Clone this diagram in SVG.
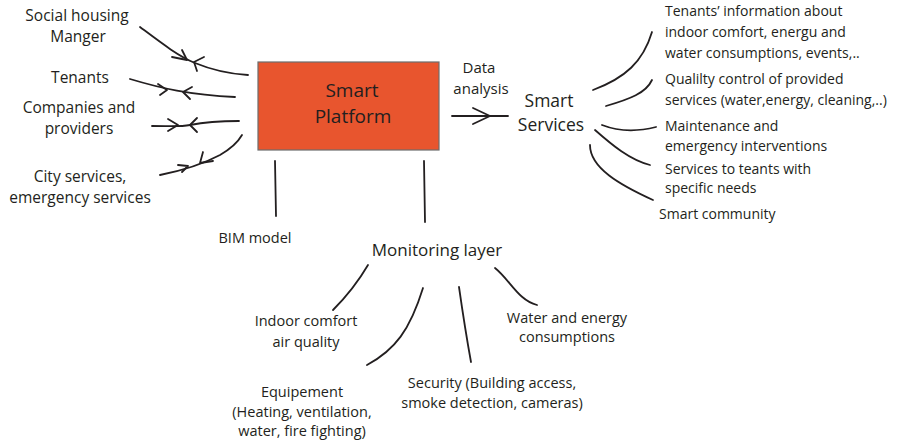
<svg xmlns="http://www.w3.org/2000/svg" width="898" height="441" viewBox="0 0 898 441">
<style>
text{font-family:"Open Sans",Lato,"Liberation Sans",sans-serif;fill:#231f20}
.l{font-size:15.5px;text-anchor:middle}
.r{font-size:14px}
.b{font-size:14.5px;text-anchor:middle}
.big{font-size:19px;text-anchor:middle}
.ln{fill:none;stroke:#231f20;stroke-width:1.8;stroke-linecap:round;stroke-linejoin:round}
</style>
<rect width="898" height="441" fill="#fff"/>
<g id="platform">
<rect x="258" y="62" width="181" height="88" fill="#e8552e" stroke="#6d6d6d" stroke-width="1.2"/>
<text class="big" x="352" y="97">Smart</text>
<text class="big" x="353" y="123">Platform</text>
</g>
<g id="services"><text class="big" x="549" y="107" style="font-size:17.5px">Smart</text><text class="big" x="551" y="131" style="font-size:17.5px">Services</text></g>
<g id="data-analysis"><text class="l" x="479" y="73" style="font-size:15px">Data</text><text class="l" x="481" y="94" style="font-size:15px">analysis</text></g>
<g id="social"><text class="l" x="77" y="21">Social housing</text><text class="l" x="78" y="42">Manger</text></g>
<g id="tenants"><text class="l" x="80" y="83">Tenants</text></g>
<g id="companies"><text class="l" x="79" y="113">Companies and</text><text class="l" x="79" y="134">providers</text></g>
<g id="city"><text class="l" x="80" y="182">City services,</text><text class="l" x="80" y="203">emergency services</text></g>
<g id="bim"><text class="b" x="255" y="243">BIM model</text></g>
<g id="monitoring"><text class="l" x="437" y="256" style="font-size:17px">Monitoring layer</text></g>
<g id="indoor"><text class="b" x="306" y="326">Indoor comfort</text><text class="b" x="306" y="347">air quality</text></g>
<g id="equipement"><text class="b" x="302" y="397">Equipement</text><text class="b" x="302" y="417">(Heating, ventilation,</text><text class="b" x="302" y="436">water, fire fighting)</text></g>
<g id="security"><text class="b" x="492" y="388">Security (Building access,</text><text class="b" x="492" y="408">smoke detection, cameras)</text></g>
<g id="water"><text class="b" x="567" y="323">Water and energy</text><text class="b" x="567" y="342">consumptions</text></g>
<g id="tenants-info"><text class="r" x="665" y="16">Tenants’ information about</text><text class="r" x="665" y="37">indoor comfort, energu and</text><text class="r" x="665" y="58">water consumptions, events,..</text></g>
<g id="quality"><text class="r" x="665" y="84">Qualilty control of provided</text><text class="r" x="665" y="105">services (water,energy, cleaning,..)</text></g>
<g id="maintenance"><text class="r" x="665" y="131">Maintenance and</text><text class="r" x="665" y="151">emergency interventions</text></g>
<g id="specific"><text class="r" x="665" y="174">Services to teants with</text><text class="r" x="665" y="193">specific needs</text></g>
<g id="community"><text class="r" x="659" y="219">Smart community</text></g>
<g id="connectors">
<path class="ln" d="M140,27 C160,42 178,56 195,63 C212,70 230,74 248,75"/>
<path class="ln" d="M172,57 L187,60 L182,50"/>
<path class="ln" d="M204,57 L194,62 L197,71"/>
<path class="ln" d="M130,79 C160,88 190,95 235,97"/>
<path class="ln" d="M158,84 L167,90 L160,95"/>
<path class="ln" d="M192,87 L183,92 L190,99"/>
<path class="ln" d="M152,126 C170,126 180,127 190,125 C205,122 220,121 239,121"/>
<path class="ln" d="M168,119 L178,125 L168,131"/>
<path class="ln" d="M197,118 L190,125 L197,132"/>
<path class="ln" d="M160,175 C185,170 205,163 220,155 C232,148 238,142 242,135"/>
<path class="ln" d="M178,165 L188,166 L182,172"/>
<path class="ln" d="M203,152 L200,163 L213,161"/>
<path class="ln" d="M452,116 L508,116"/>
<path class="ln" d="M473,108 L490,116 L473,124"/>
<path class="ln" d="M275,161 L276,216"/>
<path class="ln" d="M424,161 L425,222"/>
<path class="ln" d="M368,265 C358,282 345,298 333,310"/>
<path class="ln" d="M423,288 C410,330 395,350 367,365"/>
<path class="ln" d="M459,287 C463,315 467,340 471,362"/>
<path class="ln" d="M495,268 C510,280 518,300 537,305"/>
<path class="ln" d="M593,90 C625,78 643,62 652,32"/>
<path class="ln" d="M606,106 C630,99 646,93 652,80"/>
<path class="ln" d="M602,125 C620,132 640,131 656,127"/>
<path class="ln" d="M595,130 C612,145 630,160 650,165"/>
<path class="ln" d="M590,145 C590,168 620,185 653,200"/>
</g>
</svg>
